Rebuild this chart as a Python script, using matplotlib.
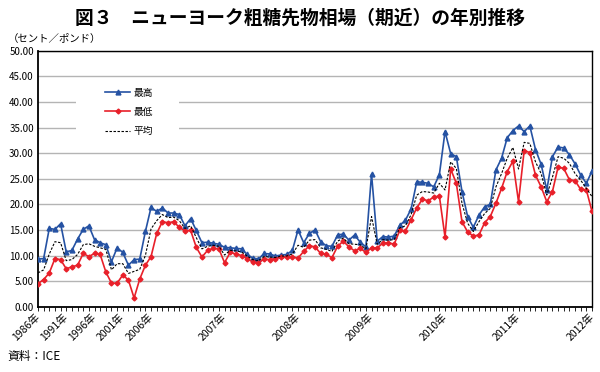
import numpy as np
import matplotlib.pyplot as plt
from matplotlib.patches import Rectangle

plt.rcParams['font.family'] = ['Noto Sans CJK JP', 'DejaVu Sans']

# categories: annual 1986-2005, then each year 2006-2011 as annual + 12 months, then 2012
categories = [f'{y}年' for y in range(1986, 2006)]
for y in range(2006, 2012):
    categories.append(f'{y}年')
    categories += [f'{y}年{m}月' for m in range(1, 13)]
categories.append('2012年')

shown_labels = ['1986年', '1991年', '1996年', '2001年', '2006年', '2007年',
                '2008年', '2009年', '2010年', '2011年', '2012年']

high = [9.3, 9.4, 15.3, 15.1, 16.2, 10.7, 11.0, 13.2, 15.1, 15.8,
        13.1, 12.5, 12.1, 8.8, 11.5, 10.6, 8.1, 9.2, 9.3, 14.7,
        19.4, 18.6, 19.3, 18.3, 18.3, 18.0, 15.8, 17.2, 14.9, 12.5,
        12.6, 12.4, 12.2, 11.6, 11.5, 11.4, 11.3, 10.2, 9.5, 9.3,
        10.4, 10.3, 9.9, 10.1, 10.2, 11.0, 15.0, 12.5, 14.3, 15.0,
        12.7, 11.9, 11.8, 14.0, 14.2, 13.0, 14.0, 12.6, 11.7, 25.9,
        12.8, 13.7, 13.6, 13.8, 15.9, 16.9, 19.1, 24.4, 24.3, 24.1,
        23.4, 25.8, 34.2, 29.9, 29.3, 22.5, 17.6, 15.5, 17.9, 19.5,
        20.0, 26.7, 29.0, 33.0, 34.4, 35.3, 34.2, 35.3, 30.7, 27.8,
        22.8, 29.3, 31.2, 31.0, 29.7, 27.9, 25.7, 24.1, 26.5]

low = [4.5, 5.3, 6.6, 9.4, 9.2, 7.4, 7.8, 8.1, 10.4, 9.8,
       10.4, 10.2, 6.8, 4.6, 4.6, 6.2, 5.2, 1.7, 5.4, 8.1,
       9.8, 14.3, 16.6, 16.4, 16.6, 15.5, 14.8, 14.9, 11.6, 9.7,
       11.0, 11.4, 11.3, 8.6, 10.6, 10.3, 10.0, 9.4, 8.7, 8.6,
       9.3, 9.2, 9.4, 9.7, 9.7, 9.7, 9.5, 10.8, 11.9, 11.7,
       10.4, 10.2, 9.6, 11.8, 12.8, 11.7, 10.9, 11.4, 10.6, 11.5,
       11.5, 12.4, 12.5, 12.2, 14.9, 14.8, 17.0, 19.3, 21.0, 20.7,
       21.4, 21.6, 13.6, 26.9, 24.1, 16.6, 14.6, 13.8, 14.0, 16.4,
       17.6, 20.2, 23.1, 26.4, 28.4, 20.5, 30.5, 30.1, 25.7, 23.4,
       20.5, 22.5, 27.3, 27.0, 24.8, 24.6, 22.9, 22.8, 18.6]

avg = [6.6, 7.2, 10.3, 12.7, 12.5, 9.0, 9.2, 10.2, 12.1, 12.3,
       11.8, 11.5, 11.2, 7.2, 8.4, 8.4, 6.5, 6.9, 7.3, 10.0,
       15.2, 16.8, 18.0, 17.4, 17.5, 16.8, 15.3, 15.8, 13.5, 11.3,
       11.8, 12.0, 11.8, 10.1, 11.0, 10.9, 10.7, 9.9, 9.2, 9.0,
       9.8, 9.7, 9.6, 9.9, 9.9, 10.3, 12.0, 11.6, 13.0, 13.1,
       11.5, 11.2, 10.8, 12.8, 13.4, 12.3, 12.2, 12.1, 11.3, 17.6,
       12.2, 13.1, 13.0, 13.1, 15.4, 15.8, 18.0, 21.8, 22.5, 22.4,
       22.2, 24.1, 22.8, 28.3, 27.0, 20.2, 16.3, 14.7, 16.6, 18.2,
       19.2, 23.4, 26.0, 29.0, 31.1, 26.9, 32.1, 31.9, 28.3, 26.0,
       21.8, 25.3, 29.3, 29.0, 28.0, 26.0, 24.7, 23.1, 21.5]

x = np.arange(len(categories))

fig = plt.figure(figsize=(6, 3.72), dpi=100)
ax = fig.add_axes([0.0633, 0.1755, 0.9234, 0.6882])

ax.plot(x, high, color='#2552a3', lw=1.2, marker='^', markersize=3.5, label='最高', zorder=3)
ax.plot(x, low, color='#e8202a', lw=1.2, marker='D', markersize=2.5, label='最低', zorder=3)
ax.plot(x, avg, color='black', lw=0.8, linestyle=(0, (2.2, 1.4)), label='平均', zorder=4)

ax.set_xlim(0, len(categories) - 1)
ax.set_ylim(0, 50)
ax.set_yticks(np.arange(0, 51, 5))
ax.set_yticklabels([f'{v:.2f}' for v in np.arange(0, 51, 5)], fontsize=7)
ax.yaxis.grid(True, color='#b4b4b4', lw=1.0)
ax.set_axisbelow(True)
ax.tick_params(axis='y', length=0, pad=3)

ax.set_xticks(x)
ax.set_xticklabels([c if c in shown_labels else '' for c in categories],
                   rotation=45, ha='right', va='center', rotation_mode='anchor',
                   fontsize=7.5)
ax.tick_params(axis='x', length=3, width=0.6, direction='out', pad=3)

for s in ax.spines.values():
    s.set_color('black')
    s.set_linewidth(1.0)
ax.spines['left'].set_linewidth(1.3)
ax.spines['bottom'].set_linewidth(1.3)

# white legend area hiding the gridlines
ax.add_patch(Rectangle((0.0686, 0.612), 0.186, 0.281, transform=ax.transAxes,
                       facecolor='white', edgecolor='none', zorder=1))
ax.legend(loc='upper left', bbox_to_anchor=(0.121, 0.856), fontsize=7,
          frameon=False, handlelength=2.6, borderpad=0, labelspacing=0.95,
          handletextpad=0.35, borderaxespad=0)

fig.text(0.5, 0.952, '図３　ニューヨーク粗糖先物相場（期近）の年別推移',
         ha='center', va='center', fontsize=13.5, weight='bold')
fig.text(0.013, 0.895, '（セント／ポンド）', ha='left', va='center', fontsize=7.5)
fig.text(0.013, 0.043, '資料：ICE', ha='left', va='center', fontsize=8.5)

fig.savefig('out.png', dpi=100)
